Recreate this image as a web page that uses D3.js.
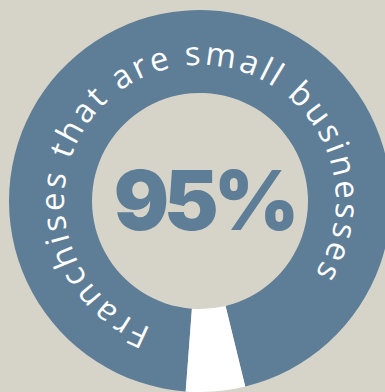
<!DOCTYPE html>
<html>
<head>
<meta charset="utf-8">
<script src="https://cdn.jsdelivr.net/npm/d3@7"></script>
<style>
  html, body { margin: 0; padding: 0; background: #d6d4c8; overflow: hidden; }
  svg { display: block; }
</style>
</head>
<body>
<svg id="chart" width="385" height="392"></svg>
<script>
// Share of franchises that are small businesses
const categories = ["Small businesses", "Other"];
const shares = [95, 5];
const centerLabel = "95%";
const ringLabel = "Franchises that are small businesses";

const width = 385, height = 392;
const cx = 200, cy = 201;
const outerR = 191, innerR = 108;
const colors = d3.scaleOrdinal().domain(categories).range(["#5e7d97", "#ffffff"]);
const deg = Math.PI / 180;

const svg = d3.select("#chart");
const g = svg.append("g").attr("transform", `translate(${cx},${cy})`);

// Ring: the main share starts just left of the bottom and runs clockwise
const start = 184.3 * deg;
const pie = d3.pie().sort(null).value(d => d.value)
  .startAngle(start).endAngle(start + 2 * Math.PI);
const arc = d3.arc().innerRadius(innerR).outerRadius(outerR);
const data = categories.map((c, i) => ({ name: c, value: shares[i] }));

g.selectAll("path.slice")
  .data(pie(data))
  .join("path")
  .attr("class", "slice")
  .attr("d", arc)
  .attr("fill", d => colors(d.data.name));

// Curved caption along the ring
const textR = 136;
const t0 = 201 * deg, t1 = (360 + 122) * deg;
const p = d3.path();
p.moveTo(textR * Math.cos(t0 - Math.PI / 2), textR * Math.sin(t0 - Math.PI / 2));
p.arc(0, 0, textR, t0 - Math.PI / 2, t1 - Math.PI / 2, false);
g.append("path").attr("id", "ringPath").attr("d", p.toString()).attr("fill", "none");

g.append("text")
  .attr("font-family", "'Open Sans', sans-serif")
  .attr("font-size", 33)
  .attr("fill", "#ffffff")
  .append("textPath")
  .attr("href", "#ringPath")
  .attr("textLength", textR * (t1 - t0))
  .attr("lengthAdjust", "spacing")
  .text(ringLabel);

// Center value
g.append("text")
  .attr("x", 4)
  .attr("y", 29)
  .attr("text-anchor", "middle")
  .attr("font-family", "Inter, 'Open Sans', sans-serif")
  .attr("font-weight", 900)
  .attr("font-size", 82)
  .attr("letter-spacing", -5)
  .attr("fill", "#5e7d97")
  .text(centerLabel);
</script>
</body>
</html>
